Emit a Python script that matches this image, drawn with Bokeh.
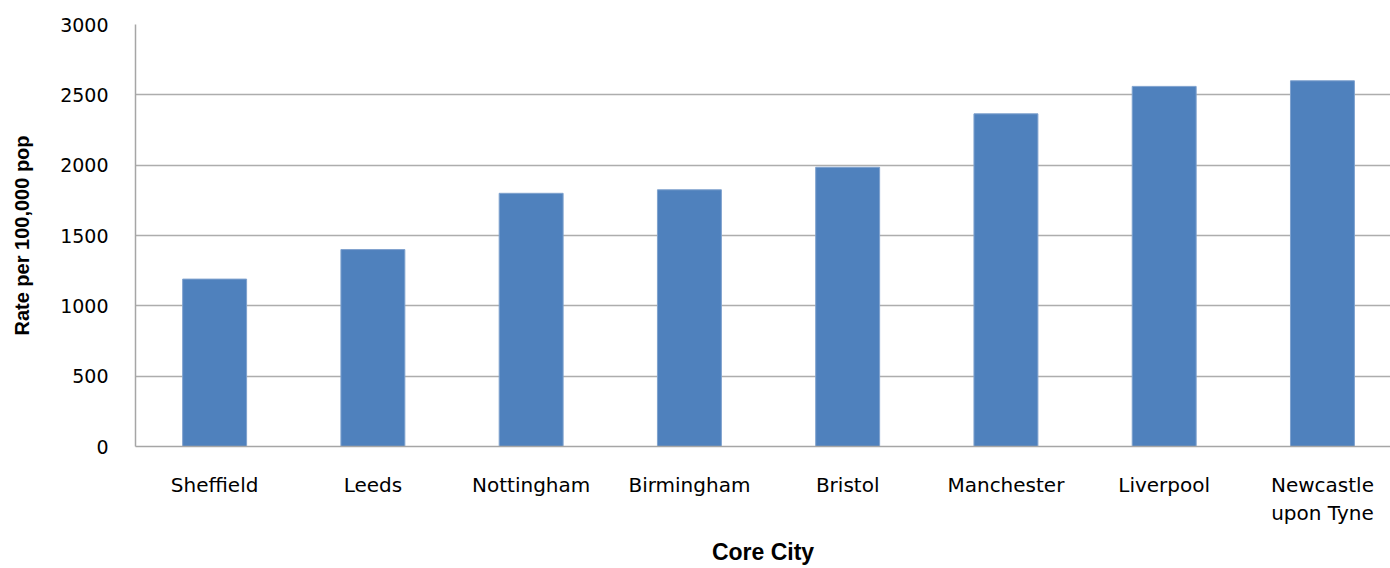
from bokeh.plotting import figure
from bokeh.models import Range1d, FixedTicker, ColumnDataSource
from bokeh.embed import file_html
from bokeh.resources import INLINE

cities = ["Sheffield", "Leeds", "Nottingham", "Birmingham", "Bristol",
          "Manchester", "Liverpool", "Newcastle\nupon Tyne"]
rates = [1190, 1400, 1800, 1825, 1985, 2365, 2560, 2600]
y_ticks = [0, 500, 1000, 1500, 2000, 2500, 3000]

positions = [i + 0.5 for i in range(len(cities))]
src = ColumnDataSource(dict(x=positions, top=rates, city=cities))

p = figure(width=1390, height=568, output_backend="svg", toolbar_location=None,
           x_range=Range1d(0, 7.93), y_range=Range1d(0, 3000),
           min_border_left=135, min_border_right=0, min_border_top=24,
           min_border_bottom=122)
p.outline_line_color = None

p.vbar(x="x", top="top", width=0.404, source=src, fill_color="#4F81BD",
       line_color="#7FA2CE", line_width=1)

# grid
p.xgrid.grid_line_color = None
p.ygrid.grid_line_color = "#ADADAD"
p.ygrid.grid_line_width = 1.5
p.ygrid.ticker = FixedTicker(ticks=y_ticks)

# x axis
p.xaxis.ticker = FixedTicker(ticks=positions)
p.xaxis.major_label_overrides = {pos: c for pos, c in zip(positions, cities)}
p.xaxis.major_tick_line_color = None
p.xaxis.minor_tick_line_color = None
p.xaxis.major_tick_out = 0
p.xaxis.major_label_standoff = 26
p.xaxis.major_label_text_font = "DejaVu Sans"
p.xaxis.major_label_text_font_size = "20px"
p.xaxis.major_label_text_color = "#000000"
p.xaxis.axis_line_color = "#A6A6A6"
p.xaxis.axis_line_width = 1.5
p.xaxis.axis_label = "Core City"
p.xaxis.axis_label_text_font = "Liberation Sans"
p.xaxis.axis_label_text_font_style = "bold"
p.xaxis.axis_label_text_font_size = "23px"
p.xaxis.axis_label_text_color = "#000000"
p.xaxis.axis_label_standoff = 11

# y axis
p.yaxis.ticker = FixedTicker(ticks=y_ticks)
p.yaxis.major_tick_line_color = None
p.yaxis.minor_tick_line_color = None
p.yaxis.major_tick_out = 0
p.yaxis.major_label_standoff = 27
p.yaxis.major_label_text_font = "DejaVu Sans"
p.yaxis.major_label_text_font_size = "19px"
p.yaxis.major_label_text_color = "#000000"
p.yaxis.axis_line_color = "#A6A6A6"
p.yaxis.axis_line_width = 1.5
p.yaxis.axis_label = "Rate per 100,000 pop"
p.yaxis.axis_label_text_font = "Liberation Sans"
p.yaxis.axis_label_text_font_style = "bold"
p.yaxis.axis_label_text_font_size = "20px"
p.yaxis.axis_label_text_color = "#000000"
p.yaxis.axis_label_standoff = 24

open("out.html", "w").write(file_html(p, INLINE))
